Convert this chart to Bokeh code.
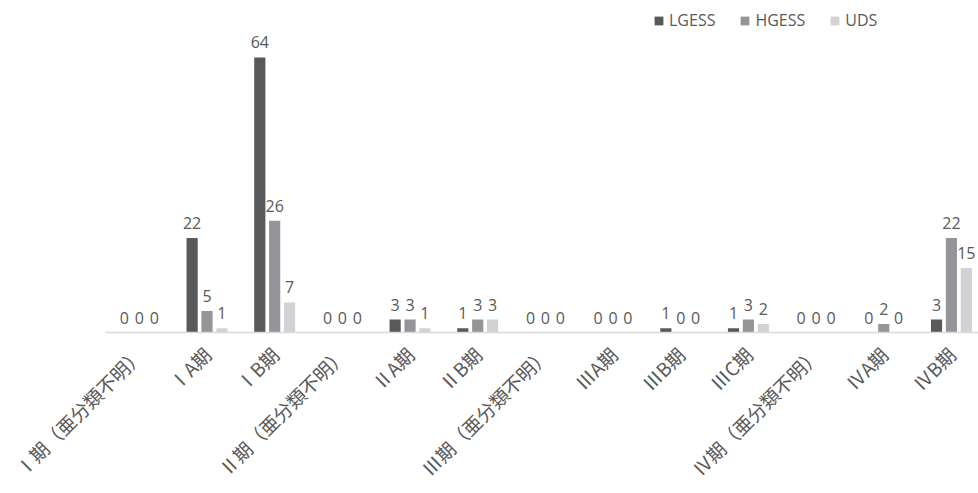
import math
from bokeh.plotting import figure
from bokeh.models import ColumnDataSource, Range1d, FixedTicker, Legend, LegendItem, LabelSet
from bokeh.core.properties import value
from bokeh.embed import file_html
from bokeh.resources import INLINE

categories = ["Ⅰ期（亜分類不明）", "ⅠA期", "ⅠB期", "Ⅱ期（亜分類不明）", "ⅡA期", "ⅡB期",
              "Ⅲ期（亜分類不明）", "ⅢA期", "ⅢB期", "ⅢC期", "Ⅳ期（亜分類不明）", "ⅣA期", "ⅣB期"]
series_names = ["LGESS", "HGESS", "UDS"]
lgess = [0, 22, 64, 0, 3, 1, 0, 0, 1, 1, 0, 0, 3]
hgess = [0, 5, 26, 0, 3, 3, 0, 0, 0, 3, 0, 2, 22]
uds = [0, 1, 7, 0, 1, 3, 0, 0, 0, 2, 0, 0, 15]
colors = ["#58595B", "#939598", "#D1D2D4"]

p = figure(width=978, height=493, output_backend="svg", toolbar_location=None,
           x_range=Range1d(0, 12.9), y_range=Range1d(0, 77.26),
           min_border_left=105, min_border_right=0, min_border_top=0, min_border_bottom=155)
p.outline_line_color = None
p.grid.grid_line_color = None
p.yaxis.visible = False
p.background_fill_color = "white"

centers = [i + 0.5 for i in range(len(categories))]
offsets = [-0.22, 0.0, 0.22]
items = []
for name, vals, col, off in zip(series_names, [lgess, hgess, uds], colors, offsets):
    xs = [c + off for c in centers]
    src = ColumnDataSource(dict(x=xs, top=vals, lab=[str(v) for v in vals]))
    r = p.vbar(x="x", top="top", width=0.165, bottom=0, source=src, fill_color=col, line_color=None)
    p.add_layout(LabelSet(x="x", y="top", text="lab", source=src, text_align="center",
                          text_baseline="bottom", y_offset=9, text_font=value("Open Sans"),
                          text_font_size="16px", text_color="#595959"))
    items.append(LegendItem(label=name, renderers=[r]))

xa = p.xaxis[0]
xa.ticker = FixedTicker(ticks=centers)
xa.major_label_overrides = {c: lab for c, lab in zip(centers, categories)}
xa.major_label_orientation = math.pi / 4
xa.major_tick_line_color = None
xa.minor_tick_line_color = None
xa.axis_line_color = "#D9D9D9"
xa.axis_line_width = 1.5
xa.major_label_text_font = "Noto Sans CJK JP"
xa.major_label_text_font_size = "19px"
xa.major_label_text_color = "#595959"
xa.major_label_standoff = 12

legend = Legend(items=items, orientation="horizontal", location=(548, 301),
                glyph_width=11, glyph_height=11, label_standoff=5, spacing=24,
                padding=0, margin=0, border_line_color=None, background_fill_alpha=0,
                label_text_font="Open Sans", label_text_font_size="16px", label_text_color="#595959")
p.add_layout(legend)

open("out.html", "w").write(file_html(p, INLINE))
